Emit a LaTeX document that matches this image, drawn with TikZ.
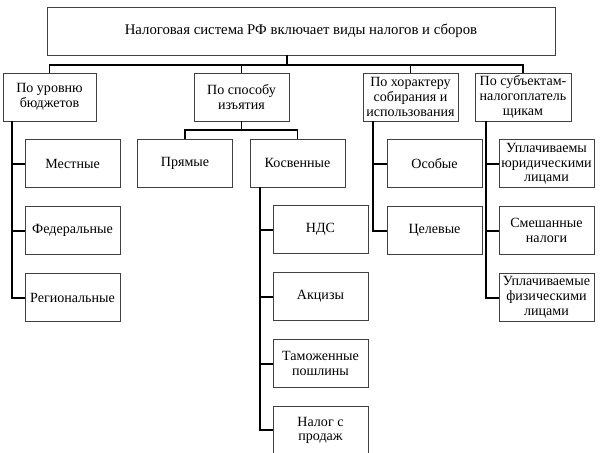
\documentclass[tikz,border=0pt]{standalone}
\usepackage{fontspec}
\setmainfont{Liberation Serif}
\usetikzlibrary{positioning}
\tikzstyle{box} = [
    rectangle, 
    minimum width=2.375cm, 
    minimum height=1.2cm, 
    align=center, 
    inner sep=0.5pt, 
    draw=black!75, 
    line width=0.6pt, 
    font=\fontsize{10}{10.6}\selectfont
]
\tikzstyle{line} = [
    line width=1.4pt, 
    black
]

\begin{document}
\begin{tikzpicture}
    \useasboundingbox (0,0) rectangle (15,-11.325);

    % Nodes
    \node (top) [box, minimum width=12.7cm, font=\fontsize{10.5}{11}\selectfont] at (7.525,-0.775) {Налоговая система РФ включает виды налогов и сборов};
    \node (lvl) [box, minimum width=2.325cm] at (1.2375,-2.425) {По уровню\\бюджетов};
    \node (way) [box] at (6.0375,-2.425) {По способу\\изъятия};
    \node (kind) [box] at (10.2625,-2.425) {По хорактеру\\собирания и\\использования};
    \node (subj) [box, minimum width=2.4cm] at (13.075,-2.425) {По субъектам-\\налогоплатель\\щикам};

    \node (loc) [box, below right=0.45cm and 0.55cm of lvl.south west] {Местные};
    \node (fed) [box, below=0.45cm of loc] {Федеральные};
    \node (reg) [box, below=0.45cm of fed] {Региональные};

    \node (dir) [box] at (4.625,-4.075) {Прямые};
    \node (ind) [box] at (7.4375,-4.075) {Косвенные};
    \node (vat) [box, below right=0.45cm and 0.575cm of ind.south west] {НДС};
    \node (exc) [box, below=0.45cm of vat] {Акцизы};
    \node (cus) [box, below=0.45cm of exc] {Таможенные\\пошлины};
    \node (sal) [box, below=0.45cm of cus] {Налог с\\продаж};

    \node (spc) [box, below right=0.45cm and 0.6cm of kind.south west] {Особые};
    \node (tgt) [box, below=0.45cm of spc] {Целевые};

    \node (jur) [box, below right=0.45cm and 0.6cm of subj.south west] {Уплачиваемы\\юридическими\\лицами};
    \node (mix) [box, below=0.45cm of jur] {Смешанные\\налоги};
    \node (phy) [box, below=0.45cm of mix] {Уплачиваемые\\физическими\\лицами};

    % Edges
    \draw [line] ([xshift=-0.35cm]top.south) -- ++(0,-0.25) coordinate (bus);
    \draw [line] (lvl.north) |- (bus) -| (subj.north);
    \foreach \n in {way,kind}
        \draw [line] (\n.north) -- (\n.north |- bus);

    \draw [line] (way.south) -- ++(0,-0.225) coordinate (wb);
    \draw [line] (dir.north) |- (wb) -| (ind.north);

    \draw [line] ([xshift=0.225cm]lvl.south west) coordinate (lv) |- (reg.west);
    \foreach \n in {loc,fed}
        \draw [line] (lv |- \n.west) -- (\n.west);

    \draw [line] ([xshift=0.25cm]ind.south west) coordinate (iv) |- (sal.west);
    \foreach \n in {vat,exc,cus}
        \draw [line] (iv |- \n.west) -- (\n.west);

    \draw [line] ([xshift=0.25cm]kind.south west) coordinate (kv) |- (tgt.west);
    \draw [line] (kv |- spc.west) -- (spc.west);

    \draw [line] ([xshift=0.275cm]subj.south west) coordinate (sv) |- (phy.west);
    \foreach \n in {jur,mix}
        \draw [line] (sv |- \n.west) -- (\n.west);

\end{tikzpicture}
\end{document}
